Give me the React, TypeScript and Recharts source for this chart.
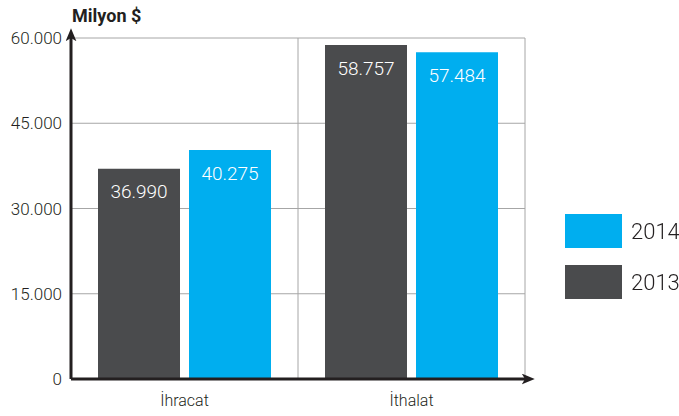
import React from "react";
import {
  BarChart,
  Bar,
  XAxis,
  YAxis,
  CartesianGrid,
  LabelList,
} from "recharts";

// values (million $)
const categories = ["İhracat", "İthalat"];
const values2013 = [36990, 58757];
const values2014 = [40275, 57484];
const yTicks = [0, 15000, 30000, 45000, 60000];

const DARK = "#4a4b4d";
const CYAN = "#00aeef";
const INK = "#231f20";
const FONT = "Roboto, 'DejaVu Sans', sans-serif";

const data = categories.map((name, i) => ({
  name,
  y2013: values2013[i],
  y2014: values2014[i],
}));

// turkish thousands separator: 36990 -> 36.990
const fmt = (v: number | string) =>
  String(v).replace(/\B(?=(\d{3})+(?!\d))/g, ".");

// legend drawn outside the chart so it doesn't eat the plot height
const LegendBox = () => {
  const items = [
    { label: "2014", color: CYAN },
    { label: "2013", color: DARK },
  ];
  return (
    <div style={{ position: "absolute", left: 565, top: 214, width: 114 }}>
      {items.map((it) => (
        <div
          key={it.label}
          style={{
            display: "flex",
            alignItems: "center",
            marginBottom: 17,
            whiteSpace: "nowrap",
          }}
        >
          <div
            style={{ width: 57, height: 34, flexShrink: 0, background: it.color }}
          />
          <span
            style={{
              marginLeft: 9,
              fontFamily: FONT,
              fontWeight: 300,
              fontSize: 22,
              color: INK,
            }}
          >
            {it.label}
          </span>
        </div>
      ))}
    </div>
  );
};

const App = () => {
  return (
    <div
      style={{
        position: "fixed",
        left: 0,
        top: 0,
        width: 679,
        height: 416,
        background: "#fff",
      }}
    >
      <div
        style={{
          position: "absolute",
          left: 72,
          top: 5,
          fontFamily: FONT,
          fontWeight: 700,
          fontSize: 18,
          color: INK,
        }}
      >
        Milyon $
      </div>
      <BarChart
        width={679}
        height={416}
        data={data}
        margin={{ top: 38, right: 154, bottom: 0, left: 0 }}
        barSize={82}
        barGap={9}
      >
        <defs>
          <marker
            id="arrow"
            viewBox="0 0 12 10"
            refX="3"
            refY="5"
            markerWidth="13"
            markerHeight="11"
            markerUnits="userSpaceOnUse"
            orient="auto-start-reverse"
          >
            <path d="M0,0 L12,5 L0,10 L3,5 z" fill={INK} />
          </marker>
        </defs>
        <CartesianGrid
          stroke="#a6a6a6"
          strokeWidth={1}
          verticalCoordinatesGenerator={({ offset }: any) => [
            offset.left + offset.width / 2,
            offset.left + offset.width,
          ]}
        />
        <XAxis
          dataKey="name"
          height={37}
          tickLine={false}
          tickSize={0}
          tickMargin={16}
          axisLine={{ stroke: INK, strokeWidth: 3, markerEnd: "url(#arrow)" }}
          tick={{ fontFamily: FONT, fontWeight: 300, fontSize: 16, fill: INK }}
        />
        <YAxis
          width={71}
          domain={[0, 60000]}
          ticks={yTicks}
          interval={0}
          tickLine={false}
          tickSize={0}
          tickMargin={9}
          tickFormatter={fmt}
          axisLine={{ stroke: INK, strokeWidth: 3, markerStart: "url(#arrow)" }}
          tick={{ fontFamily: FONT, fontWeight: 300, fontSize: 17, fill: INK }}
        />
        <Bar dataKey="y2013" fill={DARK} isAnimationActive={false}>
          <LabelList
            dataKey="y2013"
            position="insideTop"
            offset={16}
            formatter={fmt}
            style={{ fill: "#fff", fontFamily: FONT, fontWeight: 300, fontSize: 19 }}
          />
        </Bar>
        <Bar dataKey="y2014" fill={CYAN} isAnimationActive={false}>
          <LabelList
            dataKey="y2014"
            position="insideTop"
            offset={16}
            formatter={fmt}
            style={{ fill: "#fff", fontFamily: FONT, fontWeight: 300, fontSize: 19 }}
          />
        </Bar>
      </BarChart>
      <LegendBox />
    </div>
  );
};

export default App;
